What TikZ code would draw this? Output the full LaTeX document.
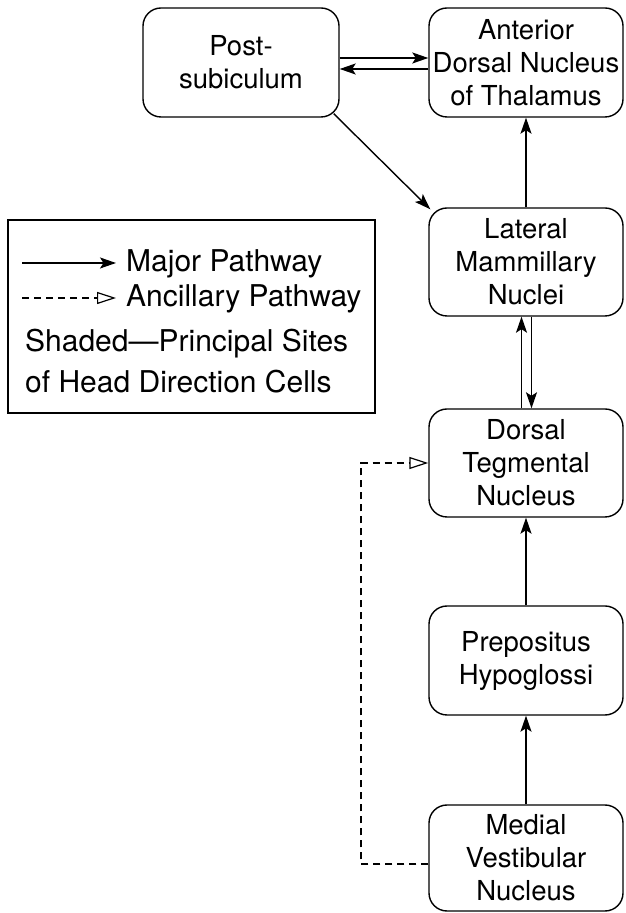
\documentclass[tikz,border=0pt]{standalone}
\usepackage{fontspec}
\setmainfont{TeX Gyre Heros}
\usetikzlibrary{arrows.meta,calc}
\begin{document}
\begin{tikzpicture}[x=1pt,y=1pt,
  box/.style={draw,line width=1.4pt,rounded corners=18pt,minimum width=194pt,minimum height=108pt,inner sep=0pt,align=center,font=\fontsize{27.5}{33}\selectfont},
  major/.style={line width=1.4pt,-{Stealth[length=16pt,width=11pt,inset=3.5pt]}},
  ancil/.style={line width=1.2pt,dash pattern=on 7pt off 5pt,-{Triangle[open,length=19pt,width=12pt]}},
  legtext/.style={anchor=base west,inner sep=0pt,font=\fontsize{30}{34}\selectfont}]
\useasboundingbox (0,0) rectangle (625,913);
\node[box,minimum width=196pt,minimum height=109pt] (post) at (241,850.5) {Post-\\subiculum};
\node[box,minimum height=109pt] (ant) at (526,850.5) {Anterior\\Dorsal Nucleus\\of Thalamus};
\node[box] (lat) at (526,651) {Lateral\\Mammillary\\Nuclei};
\node[box] (dtn) at (526,450) {Dorsal\\Tegmental\\Nucleus};
\node[box,minimum height=109pt] (prep) at (526,252.5) {Prepositus\\Hypoglossi};
\node[box,minimum height=106pt] (mv) at (526,55) {Medial\\Vestibular\\Nucleus};
% connectors
\draw[major] ([yshift=4.5pt]post.east) -- ([yshift=4.5pt]post.east -| ant.west);
\draw[major] ([yshift=-6.5pt]ant.west) -- ([yshift=-6.5pt]ant.west -| post.east);
\draw[major] ($(post.south east)+(-6,4)$) -- ($(lat.north west)+(2,-2)$);
\draw[major] (lat.north) -- (ant.south);
\draw[major] ([xshift=-4.5pt]dtn.north) -- ([xshift=-4.5pt]lat.south);
\draw[major] ([xshift=5.5pt]lat.south) -- ([xshift=5.5pt]dtn.north);
\draw[major] (prep.north) -- (dtn.south);
\draw[major] (mv.north) -- (prep.north |- prep.south);
\coordinate (dl) at (361,49);
\draw[ancil] ([yshift=-6pt]mv.west) -- (dl) |- (dtn.west);
% legend
\node[draw,line width=1.4pt,minimum width=367pt,minimum height=193pt,inner sep=0pt] (leg) at (191.5,596.5) {};
\coordinate (l1a) at (22,650);
\coordinate (l1b) at (116,650);
\coordinate (l2a) at (22,615);
\coordinate (l2b) at (116,615);
\draw[major] (l1a) -- (l1b);
\draw[ancil] (l2a) -- (l2b);
\node[legtext] (t1) at (126,641) {Major Pathway};
\node[legtext] (t2) at (126,606) {Ancillary Pathway};
\node[legtext] (t3) at (25,561) {Shaded—Principal Sites};
\node[legtext] (t4) at (25,520) {of Head Direction Cells};
\end{tikzpicture}
\end{document}
